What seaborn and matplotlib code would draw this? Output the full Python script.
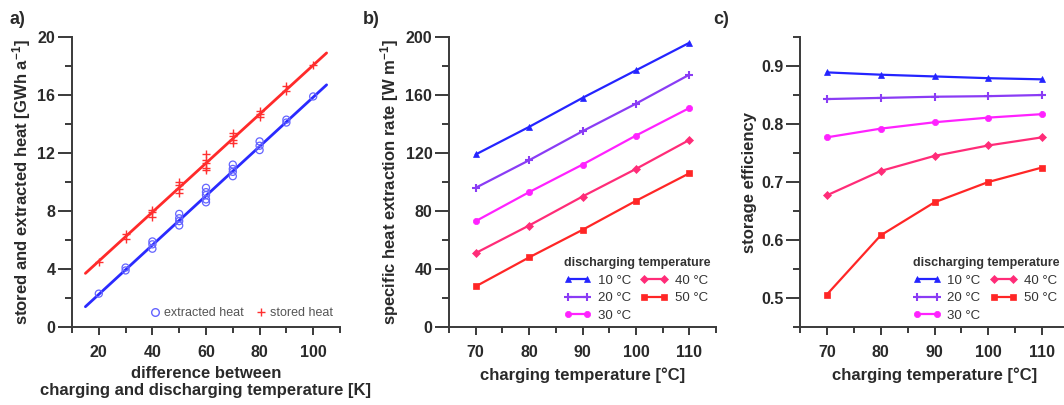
import numpy as np
import pandas as pd
import matplotlib
matplotlib.use("Agg")
import matplotlib.pyplot as plt
from matplotlib.lines import Line2D
from matplotlib.ticker import MultipleLocator, FormatStrFormatter
import seaborn as sns

# ---------------- data ----------------
# panel a: difference between charging and discharging temperature [K]
diff_extracted = [20, 30, 30, 40, 40, 40, 50, 50, 50, 50, 60, 60, 60, 60, 60,
                  70, 70, 70, 70, 80, 80, 80, 90, 90, 100]
extracted_heat = [2.3, 4.1, 3.9, 5.9, 5.7, 5.4, 7.8, 7.5, 7.3, 7.0,
                  9.6, 9.3, 9.1, 8.8, 8.6, 11.2, 10.9, 10.7, 10.4,
                  12.8, 12.5, 12.2, 14.3, 14.1, 15.9]
diff_stored = diff_extracted
stored_heat = [4.5, 6.1, 6.4, 7.6, 7.9, 8.1, 9.25, 9.5, 9.8, 10.0,
               10.8, 11.0, 11.3, 11.5, 11.9, 12.7, 12.9, 13.2, 13.4,
               14.5, 14.7, 14.9, 16.3, 16.6, 18.1]
fit_x = [15, 105]
extracted_fit = [1.4, 16.7]
stored_fit = [3.7, 18.9]

# panels b and c
charging_temp = [70, 80, 90, 100, 110]
discharge_labels = ["10 °C", "20 °C", "30 °C", "40 °C", "50 °C"]
rate_10 = [119, 138, 158, 177, 196]
rate_20 = [96, 115, 135, 154, 174]
rate_30 = [73, 93, 112, 132, 151]
rate_40 = [51, 70, 90, 109, 129]
rate_50 = [28, 48, 67, 87, 106]
eff_10 = [0.889, 0.885, 0.882, 0.879, 0.877]
eff_20 = [0.843, 0.845, 0.847, 0.848, 0.850]
eff_30 = [0.777, 0.792, 0.803, 0.811, 0.817]
eff_40 = [0.677, 0.719, 0.745, 0.763, 0.777]
eff_50 = [0.506, 0.608, 0.665, 0.700, 0.725]

rates = [rate_10, rate_20, rate_30, rate_40, rate_50]
effs = [eff_10, eff_20, eff_30, eff_40, eff_50]

# ---------------- style ----------------
sns.set_theme(style="ticks")
plt.rcParams["font.family"] = ["Liberation Sans", "DejaVu Sans"]
plt.rcParams["font.weight"] = "bold"
plt.rcParams["axes.labelweight"] = "bold"
plt.rcParams["mathtext.fontset"] = "custom"
plt.rcParams["mathtext.rm"] = "Liberation Sans:bold"
plt.rcParams["mathtext.bf"] = "Liberation Sans:bold"
plt.rcParams["mathtext.default"] = "bf"

AX_COLOR = "#3a3a3a"
TXT = "#2a2a2a"
colors = ["#2424ff", "#8a3cf5", "#ff22ff", "#ff2c78", "#ff2626"]
markers = ["^", "+", "o", "D", "s"]
msizes = [4.5, 6, 4.5, 3.8, 3.8]
mews = [0.5, 1.5, 0.5, 0.5, 0.5]

rows = []
for lab, r, e in zip(discharge_labels, rates, effs):
    for t, rv, ev in zip(charging_temp, r, e):
        rows.append({"charging": t, "discharging": lab, "rate": rv, "eff": ev})
df = pd.DataFrame(rows)

fig = plt.figure(figsize=(10.64, 4.05), dpi=100)
W, H = 1064.0, 405.0
bottom = 1 - 327 / H
height = 290 / H
ax_a = fig.add_axes([72 / W, bottom, (340 - 72) / W, height])
ax_b = fig.add_axes([449 / W, bottom, (716 - 449) / W, height])
ax_c = fig.add_axes([800 / W, bottom, (1069 - 800) / W, height])

LABEL_FS = 12
TICK_FS = 11.5


def style_axes(ax):
    sns.despine(ax=ax)
    for s in ["left", "bottom"]:
        ax.spines[s].set_color(AX_COLOR)
        ax.spines[s].set_linewidth(1.4)
    ax.tick_params(axis="y", which="major", length=10, width=1.4, color=AX_COLOR,
                   labelsize=TICK_FS, pad=2, labelcolor=TXT)
    ax.tick_params(axis="y", which="minor", length=5, width=1.4, color=AX_COLOR)
    ax.tick_params(axis="x", which="major", length=6, width=1.4, color=AX_COLOR,
                   labelsize=TICK_FS, pad=7, labelcolor=TXT)
    ax.tick_params(axis="x", which="minor", length=4, width=1.4, color=AX_COLOR)
    for lbl in ax.get_xticklabels() + ax.get_yticklabels():
        lbl.set_fontweight("bold")


# ---------------- panel a ----------------
sns.lineplot(x=fit_x, y=stored_fit, ax=ax_a, color="#ff2a2a", lw=2.0)
sns.lineplot(x=fit_x, y=extracted_fit, ax=ax_a, color="#2a2aff", lw=2.0)
ax_a.scatter(diff_extracted, extracted_heat, s=26, facecolors="none",
             edgecolors="#6464ff", linewidths=0.9, zorder=3)
ax_a.scatter(diff_stored, stored_heat, s=40, marker="+", color="#ff3030",
             linewidths=1.0, zorder=3)
ax_a.set_xlim(10, 110)
ax_a.set_ylim(0, 20)
ax_a.xaxis.set_major_locator(MultipleLocator(20))
ax_a.xaxis.set_minor_locator(MultipleLocator(10))
ax_a.yaxis.set_major_locator(MultipleLocator(4))
ax_a.yaxis.set_minor_locator(MultipleLocator(2))
style_axes(ax_a)
ax_a.set_xlabel("difference between\ncharging and discharging temperature [K]",
                fontsize=LABEL_FS, fontweight="bold", labelpad=4, linespacing=1.2,
                color=TXT)
ax_a.set_ylabel("stored and extracted heat [GWh a$^{-1}$]", fontsize=LABEL_FS,
                fontweight="bold", labelpad=3, color=TXT)
h_a = [Line2D([], [], ls="none", marker="o", mfc="none", mec="#6464ff", ms=5.5),
       Line2D([], [], ls="none", marker="+", color="#ff3030", ms=6)]
leg_a = ax_a.legend(h_a, ["extracted heat", "stored heat"], ncol=2, frameon=False,
                    loc="lower right", bbox_to_anchor=(1.0, 0.0), fontsize=9,
                    handletextpad=0.2, columnspacing=0.9, handlelength=1.0,
                    borderaxespad=0.2)
for t in leg_a.get_texts():
    t.set_color("#555555")
    t.set_fontweight("normal")

# ---------------- panels b and c ----------------


def draw_series(ax, ycol):
    for lab, m, c, ms, mw in zip(discharge_labels, markers, colors, msizes, mews):
        sub = df[df["discharging"] == lab]
        sns.lineplot(data=sub, x="charging", y=ycol, ax=ax, color=c, lw=1.6,
                     marker=m, markersize=ms, markeredgecolor=c,
                     markeredgewidth=mw, legend=False)


def series_legend(ax, anchor):
    handles = [Line2D([], [], color=c, lw=1.6, marker=m, ms=ms, mec=c, mew=mw)
               for c, m, ms, mw in zip(colors, markers, msizes, mews)]
    leg = ax.legend(handles, discharge_labels, ncol=2, numpoints=2, frameon=False,
                    loc="lower left", bbox_to_anchor=anchor,
                    title="discharging temperature",
                    title_fontproperties={"weight": "bold", "size": 9},
                    fontsize=9.5, handlelength=2.1, handletextpad=0.5,
                    columnspacing=0.7, labelspacing=0.4, alignment="left",
                    borderaxespad=0.0)
    for t in leg.get_texts():
        t.set_fontweight("normal")
        t.set_color("#333333")
    leg.get_title().set_color("#333333")
    return leg


draw_series(ax_b, "rate")
ax_b.set_xlim(65, 115)
ax_b.set_ylim(0, 200)
ax_b.xaxis.set_major_locator(MultipleLocator(10))
ax_b.xaxis.set_minor_locator(MultipleLocator(5))
ax_b.yaxis.set_major_locator(MultipleLocator(40))
ax_b.yaxis.set_minor_locator(MultipleLocator(20))
style_axes(ax_b)
ax_b.set_xlabel("charging temperature [°C]", fontsize=LABEL_FS, fontweight="bold",
                labelpad=5, color=TXT)
ax_b.set_ylabel("specific heat extraction rate [W m$^{-1}$]", fontsize=LABEL_FS,
                fontweight="bold", labelpad=3, color=TXT)
series_legend(ax_b, (0.41, 0.0))

draw_series(ax_c, "eff")
ax_c.set_xlim(65, 115)
ax_c.set_ylim(0.45, 0.95)
ax_c.xaxis.set_major_locator(MultipleLocator(10))
ax_c.xaxis.set_minor_locator(MultipleLocator(5))
ax_c.yaxis.set_major_locator(MultipleLocator(0.1))
ax_c.yaxis.set_minor_locator(MultipleLocator(0.05))
ax_c.yaxis.set_major_formatter(FormatStrFormatter("%.1f"))
style_axes(ax_c)
ax_c.set_xlabel("charging temperature [°C]", fontsize=LABEL_FS, fontweight="bold",
                labelpad=5, color=TXT)
ax_c.set_ylabel("storage efficiency", fontsize=LABEL_FS, fontweight="bold",
                labelpad=3, color=TXT)
series_legend(ax_c, (0.40, 0.0))

# panel labels
for x, s in [(10, "a)"), (363, "b)"), (713, "c)")]:
    fig.text(x / W, 1 - 11 / H, s, fontsize=13, fontweight="bold", va="top",
             ha="left", color=TXT)

fig.savefig("out.png", dpi=100)
